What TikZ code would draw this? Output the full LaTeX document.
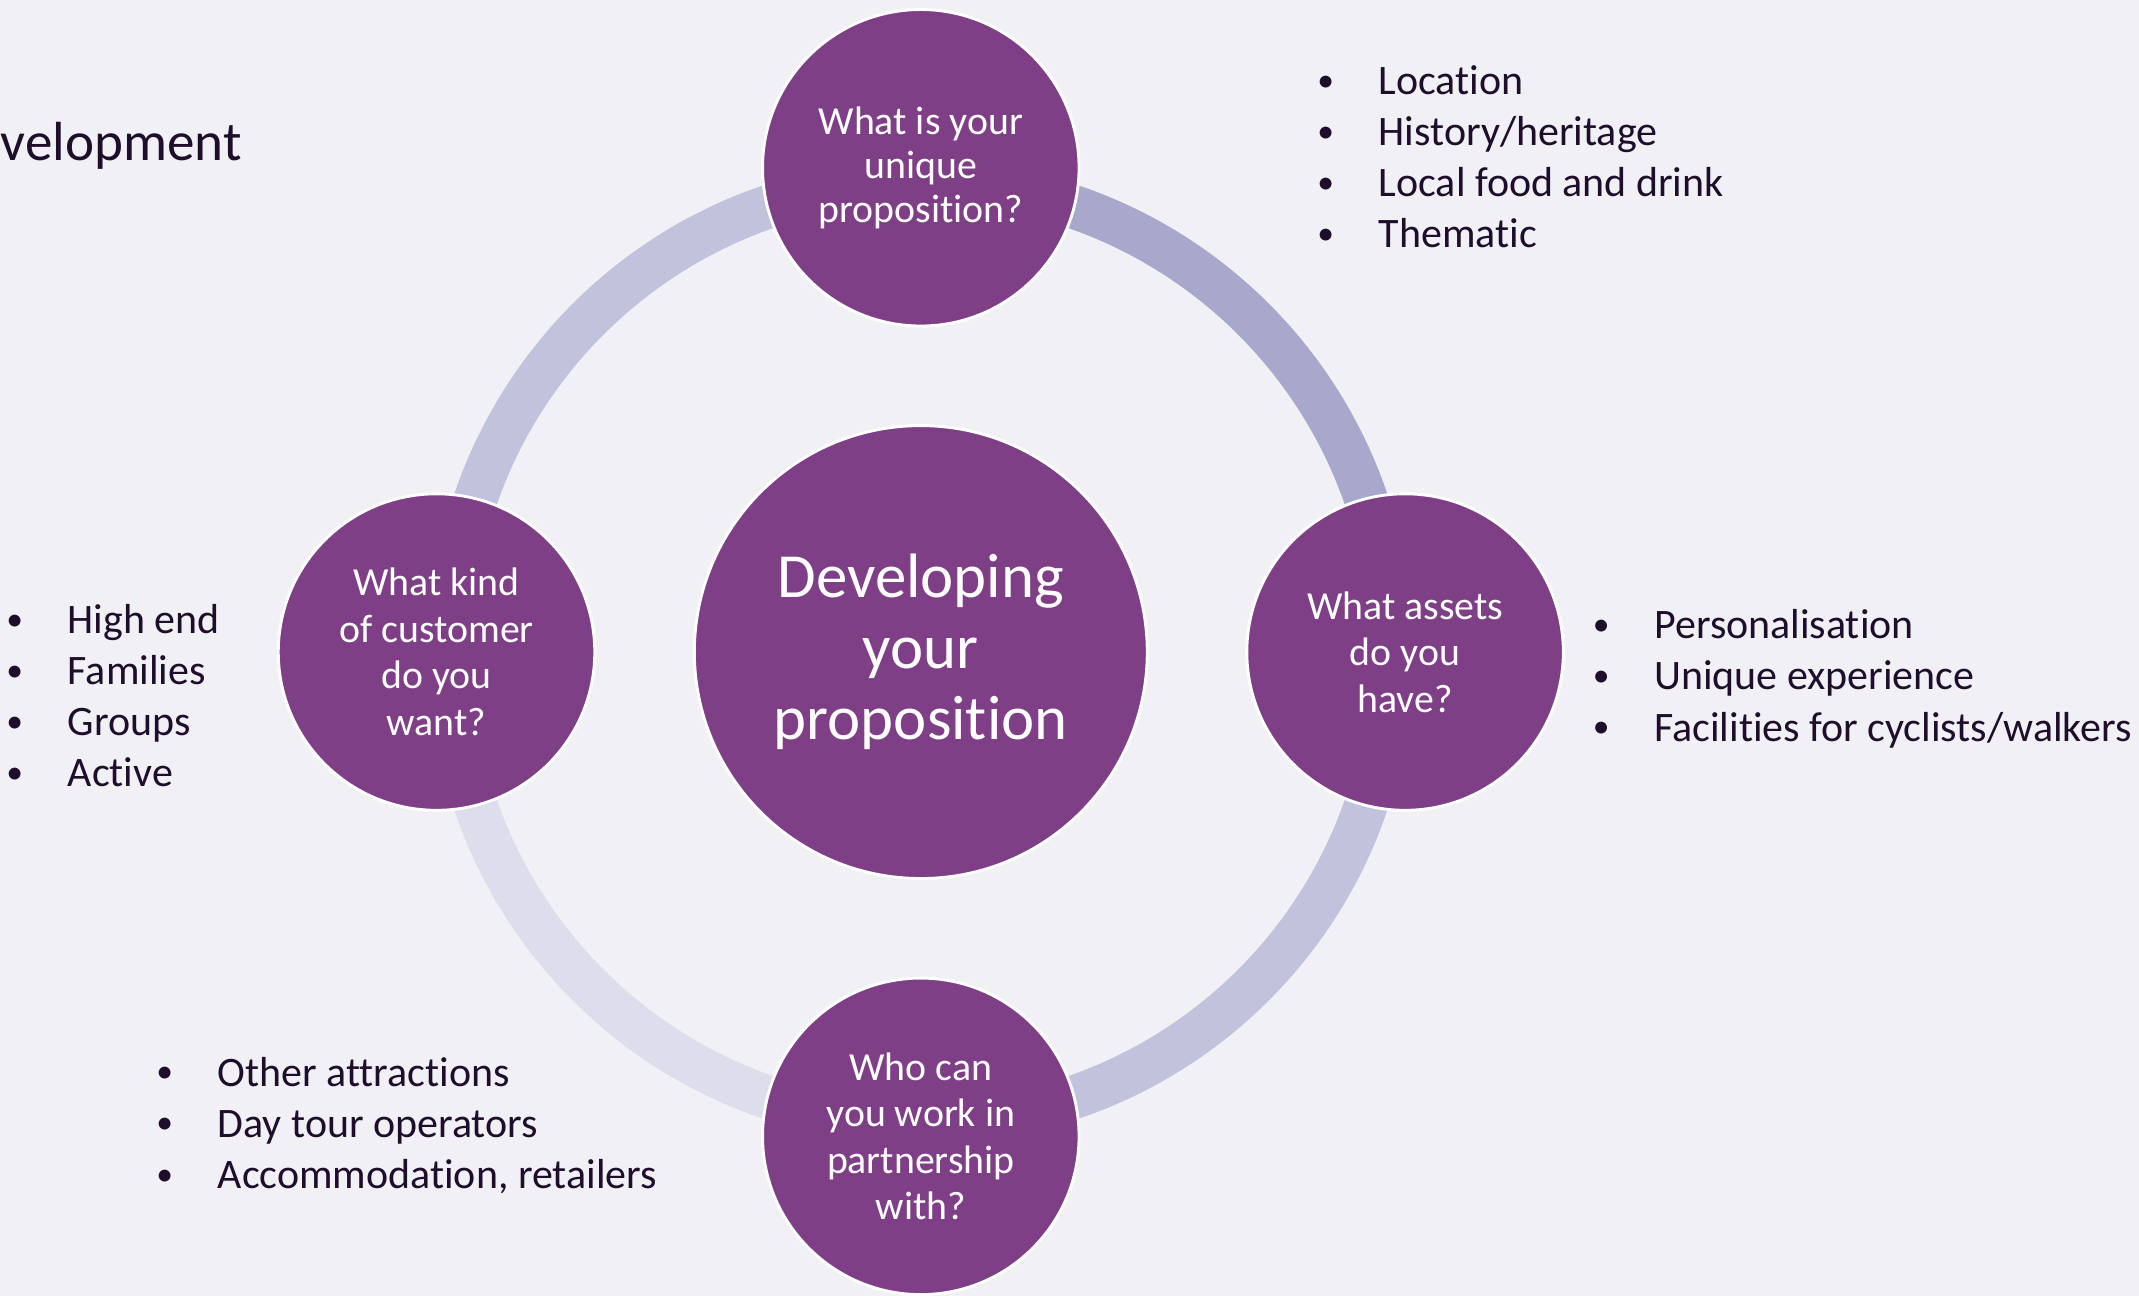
\documentclass[tikz,border=0pt]{standalone}
\usepackage{fontspec}
\setmainfont{Carlito}[RawFeature={-liga;-clig}]
\usetikzlibrary{backgrounds}
\definecolor{plum}{HTML}{7F3F87}
\definecolor{slide}{HTML}{F1F1F5}
\definecolor{inkdark}{HTML}{1E0D2B}
\definecolor{ringA}{HTML}{A7A8CC}
\definecolor{ringB}{HTML}{C1C2DC}
\definecolor{ringC}{HTML}{DDDDEB}
\tikzset{%
  question/.style = {shape=circle, fill=plum, draw=white, line width=0.6pt,%
                     minimum size=2.32cm, inner sep=0pt, align=center,%
                     text=white, font=\fontsize{8.3}{9.7}\selectfont},%
  core/.style     = {question, minimum size=3.32cm, font=\fontsize{13.1}{14.8}\selectfont},%
  notes/.style    = {align=left, anchor=west, inner sep=0pt, text=inkdark,%
                     font=\fontsize{8.75}{10.67}\selectfont},%
  ring/.style     = {line width=0.32cm}%
}
\newcommand{\itm}[1]{\makebox[0.45cm][l]{\raisebox{0.08em}{\scalebox{0.8}{\textbullet}}}#1}

\begin{document}
\begin{tikzpicture}
	\useasboundingbox (-6.75,-4.72) rectangle (8.93,4.78);
	\node [core] (hub) at (0,0) {Developing\\your\\proposition};
	\node [question, font=\fontsize{8.3}{9.2}\selectfont] (usp) at (0,3.55) {What is your\\unique\\proposition?};
	\node [question] (assets) at (3.55,0) {What assets\\do you\\have?};
	\node [question] (partners) at (0,-3.55) {Who can\\you work in\\partnership\\with?};
	\node [question] (customer) at (-3.55,0) {What kind\\of customer\\do you\\want?};
	% side notes
	\node [anchor=base west, inner sep=0pt, text=inkdark, font=\fontsize{11.5}{13}\selectfont] (title) at (-6.75,3.60) {velopment};
	\node [notes] (uspnotes) at (2.90,3.63) {\itm{Location}\\\itm{History/heritage}\\\itm{Local food and drink}\\\itm{Thematic}};
	\node [notes] (assetnotes) at (4.92,-0.195) {\itm{Personalisation}\\\itm{Unique experience}\\\itm{Facilities for cyclists/walkers}};
	\node [notes] (customernotes) at (-6.71,-0.32) {\itm{High end}\\\itm{Families}\\\itm{Groups}\\\itm{Active}};
	\node [notes] (partnernotes) at (-5.61,-3.47) {\itm{Other attractions}\\\itm{Day tour operators}\\\itm{Accommodation, retailers}};
	\begin{pgfonlayer}{background}
		\fill [slide] (-6.75,-4.72) rectangle (8.93,4.78);
		\draw [ring, ringA] (hub.center) ++(90:3.45) arc[start angle=90, end angle=0, radius=3.45];
		\draw [ring, ringB] (hub.center) ++(0:3.45) arc[start angle=0, end angle=-90, radius=3.45];
		\draw [ring, ringC] (hub.center) ++(-90:3.45) arc[start angle=-90, end angle=-180, radius=3.45];
		\draw [ring, ringB] (hub.center) ++(180:3.45) arc[start angle=180, end angle=90, radius=3.45];
	\end{pgfonlayer}
\end{tikzpicture}
\end{document}
